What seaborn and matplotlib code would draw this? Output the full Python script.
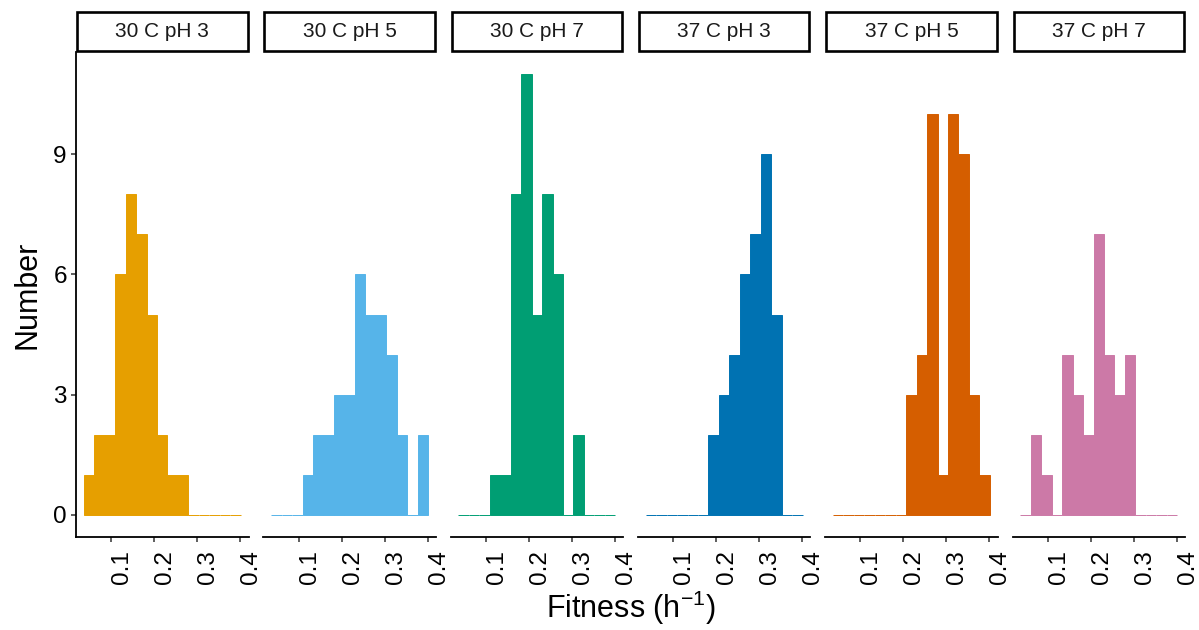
import numpy as np
import pandas as pd
import matplotlib
matplotlib.use("Agg")
import matplotlib.pyplot as plt
from matplotlib.patches import Rectangle
import seaborn as sns

# Conditions (facet order) and their colours
conditions = ["30 C pH 3", "30 C pH 5", "30 C pH 7", "37 C pH 3", "37 C pH 5", "37 C pH 7"]
colors = ["#E69F00", "#56B4E9", "#009E73", "#0072B2", "#D55E00", "#CC79A7"]

# Shared histogram bins (fitness, per hour)
bin_start = 0.0363
bin_width = 0.02431
n_bins = 15

# Counts per bin for each condition
counts_30_ph3 = [1, 2, 2, 6, 8, 7, 5, 2, 1, 1, 0, 0, 0, 0, 0]
counts_30_ph5 = [0, 0, 0, 1, 2, 2, 3, 3, 6, 5, 5, 4, 2, 0, 2]
counts_30_ph7 = [0, 0, 0, 1, 1, 8, 11, 5, 8, 6, 0, 2, 0, 0, 0]
counts_37_ph3 = [0, 0, 0, 0, 0, 0, 2, 3, 4, 6, 7, 9, 5, 0, 0]
counts_37_ph5 = [0, 0, 0, 0, 0, 0, 0, 3, 4, 10, 1, 10, 9, 3, 1]
counts_37_ph7 = [0, 2, 1, 0, 4, 3, 2, 7, 4, 3, 4, 0, 0, 0, 0]
all_counts = [counts_30_ph3, counts_30_ph5, counts_30_ph7,
              counts_37_ph3, counts_37_ph5, counts_37_ph7]

x_ticks = [0.1, 0.2, 0.3, 0.4]
y_ticks = [0, 3, 6, 9]

edges = bin_start + bin_width * np.arange(n_bins + 1)
centers = (edges[:-1] + edges[1:]) / 2

rows = []
for cond, cnts in zip(conditions, all_counts):
    for c, n in zip(centers, cnts):
        rows.append({"condition": cond, "fitness": c, "count": n})
df = pd.DataFrame(rows)

sns.set_theme(style="ticks")
plt.rcParams["font.family"] = ["Liberation Sans", "DejaVu Sans"]
plt.rcParams["mathtext.fontset"] = "custom"
plt.rcParams["mathtext.rm"] = "Liberation Sans"
plt.rcParams["mathtext.it"] = "Liberation Sans:italic"

W, H = 1199, 630
fig = plt.figure(figsize=(W / 100, H / 100), dpi=100)

left_px, right_px = 76, 1185
top_px, bottom_px = 52, 537
gap_px = 14.8
panel_w = (right_px - left_px - 5 * gap_px) / 6

span = edges[-1] - edges[0]
xlim = (edges[0] - 0.05 * span, edges[-1] + 0.05 * span)
ymax = 11
ylim = (-0.05 * ymax, ymax * 1.05)

axes = []
for i, (cond, col) in enumerate(zip(conditions, colors)):
    x0 = left_px + i * (panel_w + gap_px)
    ax = fig.add_axes([x0 / W, 1 - bottom_px / H, panel_w / W, (bottom_px - top_px) / H])
    axes.append(ax)
    sub = df[df["condition"] == cond]
    sns.histplot(data=sub, x="fitness", weights="count", bins=[float(e) for e in edges], ax=ax,
                 color=col, edgecolor=col, linewidth=0.7, alpha=1, stat="count")
    ax.set_xlim(*xlim)
    ax.set_ylim(*ylim)
    ax.set_xlabel("")
    ax.set_ylabel("")
    ax.set_xticks(x_ticks)
    ax.set_xticklabels([f"{t:.1f}" for t in x_ticks], rotation=90, fontsize=17.5,
                       color="black", ha="left")
    ax.tick_params(axis="x", length=3.6, width=1.1, color="#333333", pad=6)
    for s in ["top", "right"]:
        ax.spines[s].set_visible(False)
    ax.spines["bottom"].set_linewidth(1.3)
    ax.spines["bottom"].set_color("black")
    if i == 0:
        ax.set_yticks(y_ticks)
        ax.set_yticklabels([str(t) for t in y_ticks], fontsize=17.5, color="black")
        ax.tick_params(axis="y", length=3.6, width=1.1, color="#333333", pad=3)
        ax.spines["left"].set_linewidth(1.3)
        ax.spines["left"].set_color("black")
    else:
        ax.spines["left"].set_visible(False)
        ax.set_yticks([])

    # facet strip
    sx = x0 + 1
    strip_top, strip_bot = 12.5, 50.5
    fig.patches.append(Rectangle((sx / W, 1 - strip_bot / H), (panel_w - 2) / W,
                                 (strip_bot - strip_top) / H, transform=fig.transFigure,
                                 facecolor="white", edgecolor="black", linewidth=1.9))
    fig.text((x0 + panel_w / 2) / W, 1 - (strip_top + strip_bot) / 2 / H, cond,
             ha="center", va="center", fontsize=15, color="#1A1A1A")

fig.text((left_px + right_px) / 2 / W, 1 - 608 / H, r"Fitness (h$^{-1}$)",
         ha="center", va="center", fontsize=22, color="black")
fig.text(27 / W, 1 - (top_px + bottom_px) / 2 / H, "Number", rotation=90,
         ha="center", va="center", fontsize=22, color="black")

fig.savefig("out.png", dpi=100)
